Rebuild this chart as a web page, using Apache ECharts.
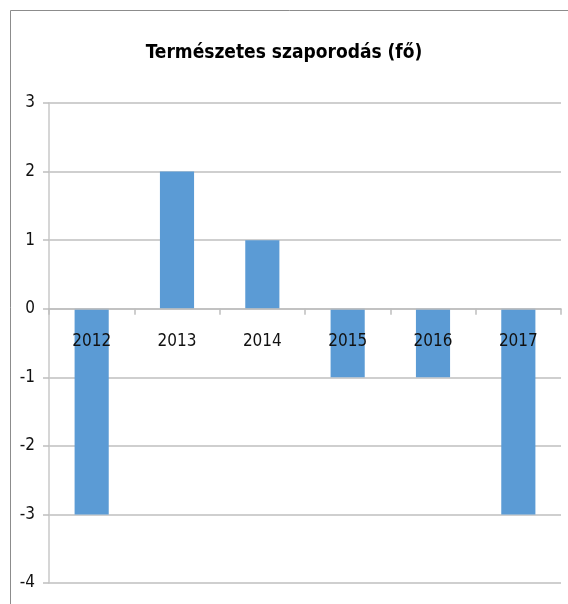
<!DOCTYPE html>
<html>
<head>
<meta charset="utf-8">
<script src="https://cdn.jsdelivr.net/npm/echarts@6/dist/echarts.min.js"></script>
<style>
html,body{margin:0;padding:0;background:#fff;}
#chart{width:568px;height:604px;}
</style>
</head>
<body>
<div id="chart"></div>
<script>
const titleText = 'Természetes szaporodás (fő)';
const categories = ['2012', '2013', '2014', '2015', '2016', '2017'];
const values = [-3, 2, 1, -1, -1, -3];
const yMin = -4, yMax = 3, yInterval = 1;

const FONT = '"Liberation Sans Narrow", "DejaVu Sans Condensed", sans-serif';
const chart = echarts.init(document.getElementById('chart'), null, {renderer: 'canvas'});
chart.setOption({
  animation: false,
  backgroundColor: '#fff',
  title: {
    text: titleText,
    left: 'center',
    top: 39,
    textStyle: {fontFamily: FONT, fontWeight: 'bold', fontSize: 19, color: '#000'}
  },
  graphic: [
    {type: 'line', shape: {x1: 10.5, y1: 10.5, x2: 568, y2: 10.5}, style: {stroke: '#8c8c8c', lineWidth: 1}},
    {type: 'line', shape: {x1: 10.5, y1: 10.5, x2: 10.5, y2: 604}, style: {stroke: '#8c8c8c', lineWidth: 1}}
  ],
  grid: {left: 49, right: 7, top: 103, bottom: 21, containLabel: false, outerBoundsMode: 'none'},
  xAxis: {
    type: 'category',
    data: categories,
    z: 5,
    axisLine: {onZero: true, lineStyle: {color: '#bfbfbf', width: 1.5}},
    axisTick: {show: true, inside: false, length: 6, lineStyle: {color: '#bfbfbf', width: 1.5}},
    axisLabel: {show: false},
    splitLine: {show: false}
  },
  yAxis: {
    type: 'value',
    min: yMin, max: yMax, interval: yInterval,
    axisLine: {show: true, lineStyle: {color: '#c8c8c8', width: 1.5}},
    axisTick: {show: true, length: 6, lineStyle: {color: '#bfbfbf', width: 1.5}},
    axisLabel: {margin: 14, fontFamily: FONT, fontSize: 17, color: '#111'},
    splitLine: {show: true, lineStyle: {color: '#bfbfbf', width: 1.5}}
  },
  series: [{
    type: 'bar',
    data: values,
    barWidth: '40%',
    itemStyle: {color: '#5b9bd5'}
  }, {
    type: 'scatter',
    z: 10,
    symbolSize: 0,
    silent: true,
    itemStyle: {opacity: 1},
    data: categories.map(c => [c, 0]),
    label: {
      show: true,
      position: 'bottom',
      distance: 24,
      opacity: 1,
      formatter: p => p.value[0],
      fontFamily: FONT, fontSize: 17, color: '#111'
    }
  }]
});
</script>
</body>
</html>
